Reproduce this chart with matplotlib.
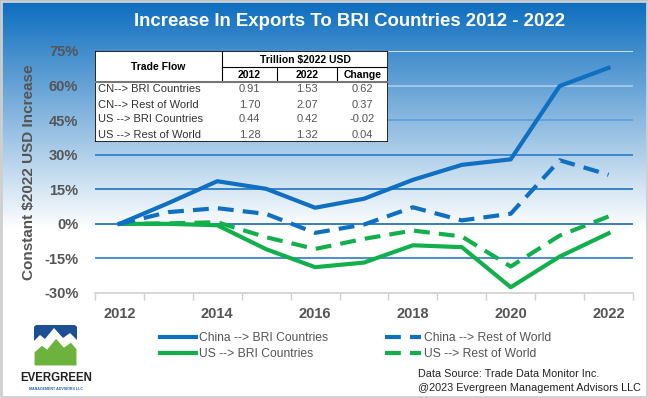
import matplotlib
matplotlib.use('Agg')
import matplotlib.pyplot as plt
import numpy as np
from matplotlib.patches import Rectangle, Polygon

# series (% increase vs 2012, constant $2022 USD)
years = [2012, 2013, 2014, 2015, 2016, 2017, 2018, 2019, 2020, 2021, 2022]
china_bri = [0, 9.0, 18.5, 15.2, 7.0, 10.9, 19.1, 25.6, 28.0, 59.8, 67.7]
china_row = [0, 5.1, 6.8, 4.3, -3.9, -0.3, 7.2, 1.5, 4.4, 27.6, 21.3]
us_bri = [0, 0.0, -0.6, -11.0, -18.8, -16.8, -9.3, -10.1, -27.5, -14.2, -4.1]
us_row = [0, 0.2, 0.7, -5.8, -10.9, -6.5, -2.9, -5.5, -18.5, -5.1, 3.2]

# table values
table_flows = ['CN--> BRI Countries', 'CN--> Rest of World', 'US --> BRI Countries', 'US --> Rest of World']
table_2012 = ['0.91', '1.70', '0.44', '1.28']
table_2022 = ['1.53', '2.07', '0.42', '1.32']
table_change = ['0.62', '0.37', '-0.02', '0.04']

yticks = [-30, -15, 0, 15, 30, 45, 60, 75]
xlabels = ['2012', '2014', '2016', '2018', '2020', '2022']

BLUE = '#0f6fc3'
GREEN = '#12b04c'
GRAY = '#555555'
sans = ['Liberation Sans', 'DejaVu Sans']

W, H = 648, 398
fig = plt.figure(figsize=(W / 100, H / 100), dpi=100)


def fx(px):
    return px / W


def fy(py):
    return 1 - py / H


# background gradient (blue top -> white)
bg = fig.add_axes([0, 0, 1, 1], zorder=-10)
top = np.array([11, 108, 190]) / 255
rows = np.arange(H)
t = np.clip(rows / 228.0, 0, 1)[:, None]
grad = top * (1 - t) + np.ones(3) * t
bg.imshow(grad[:, None, :], aspect='auto', extent=[0, W, H, 0])
bg.set_xlim(0, W)
bg.set_ylim(H, 0)
bg.axis('off')
bg.add_patch(Rectangle((1, 1), W - 2, H - 2, fill=False, ec='#cfcfcf', lw=2))

# logo
bg.add_patch(Polygon([(34, 347), (34, 327), (36, 325), (75, 325), (77, 327), (77, 347)], closed=True,
                     fc='#1c4f93', ec='none'))
bg.add_patch(Polygon([(34, 347), (34, 341), (40, 335), (45, 339), (54, 328), (63, 338), (70, 333),
                      (77, 340), (77, 350), (34, 350)], closed=True, fc='white', ec='none'))
bg.add_patch(Polygon([(34, 366), (34, 352), (42, 345), (47, 349), (56, 338), (64, 347), (71, 342),
                      (77, 349), (77, 366)], closed=True, fc='#6cb33e', ec='white', lw=0.8))
bg.text(56, 378, 'EVERGREEN', ha='center', va='center', fontsize=8.3, fontweight='bold',
        color='#222222', family=sans)
bg.text(56, 389, 'MANAGEMENT ADVISORS LLC', ha='center', va='center', fontsize=2.6,
        fontweight='bold', color='#2a62a8', family=sans)

# title
fig.text(fx(350), fy(22), 'Increase In Exports To BRI Countries 2012 - 2022', ha='center',
         va='center', fontsize=13.4, fontweight='bold', color='white', family=sans)

# main chart
ax = fig.add_axes([fx(95), fy(293), fx(633 - 95), (293 - 51) / H])
ax.patch.set_alpha(0)
x = np.arange(len(years))
grid_colors = ['#2a7cc8', '#1667bd', '#1f72c4', '#2a7ccb', '#5a9fd8', '#a6cdee', '#eaf3fb']
for yv, c in zip(yticks[1:], grid_colors):
    ax.axhline(yv, color=c, lw=1.2, zorder=1)

ax.plot(x, china_bri, color=BLUE, lw=3, label='China --> BRI Countries', zorder=3)
ax.plot(x, china_row, color=BLUE, lw=3, ls=(0, (3.8, 2.2)), label='China --> Rest of World', zorder=3)
ax.plot(x, us_bri, color=GREEN, lw=3, label='US --> BRI Countries', zorder=2)
ax.plot(x, us_row, color=GREEN, lw=3, ls=(0, (3.8, 2.2)), label='US --> Rest of World', zorder=2)

ax.set_xlim(-0.5, len(years) - 0.5)
ax.set_ylim(-30, 75)
ax.set_yticks(yticks)
ax.set_yticklabels([f'{v}%' for v in yticks])
ax.set_xticks([years.index(int(l)) for l in xlabels])
ax.set_xticklabels(xlabels)
ax.set_xticks(np.arange(-0.5, len(years)), minor=True)
ax.tick_params(axis='both', which='major', length=0, labelsize=10.5, labelcolor=GRAY)
ax.tick_params(axis='y', pad=12)
ax.tick_params(axis='x', pad=10)
ax.tick_params(axis='x', which='minor', length=5, color='#cfcfcf', width=1)
for lab in ax.get_xticklabels() + ax.get_yticklabels():
    lab.set_fontweight('bold')
    lab.set_family(sans)
for s in ['top', 'right', 'left']:
    ax.spines[s].set_visible(False)
ax.spines['bottom'].set_color('#d0d0d0')
ax.spines['bottom'].set_linewidth(1.2)
ax.set_ylabel('Constant $2022 USD Increase', fontsize=11, fontweight='bold', color=GRAY,
              family=sans, labelpad=6)

# table
tb = fig.add_axes([fx(95), fy(142), fx(293), 91 / H], zorder=5)
tb.set_xlim(0, 293)
tb.set_ylim(91, 0)
tb.axis('off')
tb.add_patch(Rectangle((0, 0), 293, 91, fc='white', ec='black', lw=1.2))
cols = [0, 127, 182, 242, 293]
tb.plot([127, 127], [0, 31], color='black', lw=0.8)
tb.plot([127, 293], [16, 16], color='black', lw=0.8)
tb.plot([182, 182], [16, 31], color='black', lw=0.8)
tb.plot([242, 242], [16, 31], color='black', lw=0.8)
tb.plot([0, 293], [31, 31], color='#777777', lw=1.5)
tb.text(63, 16, 'Trade Flow', ha='center', va='center', fontsize=7.5, fontweight='bold', family=sans)
tb.text(210, 8.5, 'Trillion $2022 USD', ha='center', va='center', fontsize=7.5, fontweight='bold',
        family=sans)
for i, h in enumerate(['2012', '2022', 'Change']):
    tb.text((cols[i + 1] + cols[i + 2]) / 2, 24, h, ha='center', va='center', fontsize=7.5,
            fontweight='bold', family=sans)
for r in range(len(table_flows)):
    yc = 38.5 + 15 * r
    tb.text(3, yc, table_flows[r], ha='left', va='center', fontsize=8, color='#333333', family=sans)
    for i, v in enumerate([table_2012[r], table_2022[r], table_change[r]]):
        tb.text((cols[i + 1] + cols[i + 2]) / 2, yc, v, ha='center', va='center', fontsize=8,
                color=GRAY, family=sans)

# legend in two columns
h, l = ax.get_legend_handles_labels()
for idx, xpos in [((0, 2), 160), ((1, 3), 385)]:
    fig.legend([h[i] for i in idx], [l[i] for i in idx], loc='upper left',
               bbox_to_anchor=(fx(xpos), fy(332)), frameon=False, borderpad=0, borderaxespad=0,
               handlelength=3.0, handletextpad=0.25, labelspacing=0.35,
               prop={'family': sans, 'size': 8.7}, labelcolor=GRAY)

# source note
fig.text(fx(418), fy(374), 'Data Source: Trade Data Monitor Inc.', ha='left', va='center',
         fontsize=7.8, color='#222222', family=sans)
fig.text(fx(418), fy(388), '@2023 Evergreen Management Advisors LLC', ha='left', va='center',
         fontsize=7.8, color='#222222', family=sans)

fig.savefig('out.png', dpi=100)
